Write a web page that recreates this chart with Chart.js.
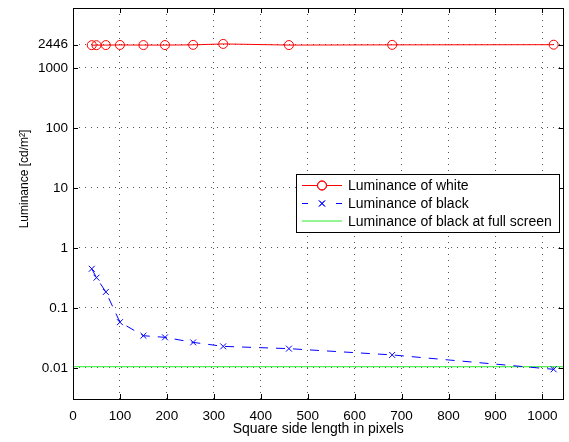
<!DOCTYPE html>
<html lang="en">
<head>
    <meta charset="UTF-8">
    <title>Luminance vs square side length</title>
    <script src="https://cdn.jsdelivr.net/npm/chart.js"></script>
    <style>
        body {
            margin: 0;
            background-color: #fff;
        }
        #wrap {
            width: 569px;
            height: 442px;
        }
    </style>
</head>
<body>
    <div id="wrap">
        <canvas id="lumChart" width="569" height="442"></canvas>
    </div>

    <script>
        // Square side lengths (pixels)
        const sideLengths = [40, 50, 70, 100, 150, 196, 256, 320, 460, 680, 1024];
        // Luminance values (cd/m^2)
        const whiteLum = [2400, 2400, 2410, 2420, 2410, 2410, 2430, 2520, 2410, 2430, 2446];
        const blackLum = [0.45, 0.32, 0.185, 0.058, 0.0345, 0.0324, 0.0267, 0.0229, 0.021, 0.0165, 0.0095];
        const blackFullScreen = 0.0105;

        // Axis settings
        const xRange = [0, 1045];
        const xTicks = [0, 100, 200, 300, 400, 500, 600, 700, 800, 900, 1000];
        const yRange = [0.00304, 10000];
        const yTicks = [0.01, 0.1, 1, 10, 100, 1000, 2446];
        const yTickLabels = ['0.01', '0.1', '1', '10', '100', '1000', '2446'];

        const seriesNames = ['Luminance of white', 'Luminance of black', 'Luminance of black at full screen'];
        const yTitle = 'Luminance [cd/m²]';

        const FONT = '"Liberation Sans", Arial, sans-serif';

        const toPoints = (xs, ys) => xs.map((x, i) => ({ x: x, y: ys[i] }));

        // Frame around the plot area with inward tick marks (MATLAB style), plus y label
        const framePlugin = {
            id: 'frame',
            afterDatasetsDraw(chart) {
                const { ctx, chartArea: a, scales } = chart;
                ctx.save();
                ctx.strokeStyle = '#000';
                ctx.lineWidth = 1;
                ctx.setLineDash([]);
                ctx.beginPath();
                scales.x.ticks.forEach(t => {
                    const px = Math.round(scales.x.getPixelForValue(t.value)) + 0.5;
                    ctx.moveTo(px, a.bottom); ctx.lineTo(px, a.bottom - 5);
                    ctx.moveTo(px, a.top); ctx.lineTo(px, a.top + 5);
                });
                scales.y.ticks.forEach(t => {
                    const py = Math.round(scales.y.getPixelForValue(t.value)) + 0.5;
                    ctx.moveTo(a.left, py); ctx.lineTo(a.left + 5, py);
                    ctx.moveTo(a.right, py); ctx.lineTo(a.right - 5, py);
                });
                ctx.stroke();
                ctx.strokeRect(Math.round(a.left) + 0.5, Math.round(a.top) + 0.5,
                    Math.round(a.right - a.left) - 1, Math.round(a.bottom - a.top));

                // y axis label
                ctx.translate(25, 179);
                ctx.rotate(-Math.PI / 2);
                ctx.fillStyle = '#000';
                ctx.font = '12px ' + FONT;
                ctx.textAlign = 'center';
                ctx.textBaseline = 'middle';
                ctx.fillText(yTitle, 0, 0);
                ctx.restore();
            }
        };

        // Legend box drawn inside the plot area
        const legendPlugin = {
            id: 'boxLegend',
            afterDraw(chart) {
                const ctx = chart.ctx;
                const box = { x: 296, y: 174, w: 263, h: 58 };
                const rows = [185.5, 203.5, 221];
                ctx.save();
                ctx.fillStyle = '#fff';
                ctx.fillRect(box.x, box.y, box.w, box.h);
                ctx.strokeStyle = '#000';
                ctx.lineWidth = 1;
                ctx.strokeRect(box.x + 0.5, box.y + 0.5, box.w, box.h);
                ctx.font = '14px ' + FONT;
                ctx.textBaseline = 'middle';
                chart.data.datasets.forEach((ds, i) => {
                    const y = rows[i];
                    ctx.strokeStyle = ds.borderColor;
                    ctx.lineWidth = 1;
                    ctx.setLineDash(ds.borderDash ? [6, 28] : []);
                    ctx.beginPath();
                    ctx.moveTo(302, y); ctx.lineTo(342, y);
                    ctx.stroke();
                    ctx.setLineDash([]);
                    if (ds.pointRadius > 0) {
                        Chart.helpers.drawPoint(ctx, {
                            pointStyle: ds.pointStyle,
                            radius: ds.pointRadius,
                            borderWidth: 1
                        }, 322, y);
                        ctx.stroke();
                    }
                    ctx.fillStyle = '#000';
                    ctx.fillText(ds.label, 348, y + 1);
                });
                ctx.restore();
            }
        };

        const ctx = document.getElementById('lumChart').getContext('2d');
        const lumChart = new Chart(ctx, {
            type: 'line',
            data: {
                datasets: [{
                    label: seriesNames[0],
                    data: toPoints(sideLengths, whiteLum),
                    borderColor: 'rgb(255, 0, 0)',
                    backgroundColor: 'rgba(0, 0, 0, 0)',
                    borderWidth: 1,
                    pointStyle: 'circle',
                    pointRadius: 4.5,
                    pointBorderWidth: 1,
                    fill: false,
                    tension: 0
                }, {
                    label: seriesNames[1],
                    data: toPoints(sideLengths, blackLum),
                    borderColor: 'rgb(0, 0, 255)',
                    backgroundColor: 'rgba(0, 0, 0, 0)',
                    borderWidth: 1,
                    borderDash: [9, 8],
                    pointStyle: 'crossRot',
                    pointRadius: 4.2,
                    pointBorderWidth: 1,
                    fill: false,
                    tension: 0
                }, {
                    label: seriesNames[2],
                    data: toPoints(xRange, [blackFullScreen, blackFullScreen]),
                    borderColor: 'rgb(40, 235, 40)',
                    borderWidth: 1,
                    pointRadius: 0,
                    fill: false
                }]
            },
            options: {
                responsive: false,
                animation: false,
                devicePixelRatio: 1,
                layout: {
                    padding: { top: 8, right: 1, left: 0, bottom: 0 }
                },
                plugins: {
                    legend: { display: false },
                    tooltip: { enabled: false }
                },
                scales: {
                    x: {
                        type: 'linear',
                        min: xRange[0],
                        max: xRange[1],
                        afterBuildTicks: scale => {
                            scale.ticks = xTicks.map(v => ({ value: v }));
                        },
                        afterFit: scale => {
                            scale.height = 43;
                            scale.paddingLeft = 0;
                            scale.paddingRight = 0;
                        },
                        grid: {
                            color: '#555',
                            lineWidth: 1,
                            drawTicks: false
                        },
                        border: { display: false, dash: [1, 5] },
                        ticks: {
                            autoSkip: false,
                            maxRotation: 0,
                            padding: 9,
                            color: '#000',
                            font: { family: FONT, size: 13.5 },
                            callback: v => String(v)
                        },
                        title: {
                            display: true,
                            text: 'Square side length in pixels',
                            color: '#000',
                            font: { family: FONT, size: 14 },
                            padding: { top: 0, bottom: 4 }
                        }
                    },
                    y: {
                        type: 'logarithmic',
                        min: yRange[0],
                        max: yRange[1],
                        afterBuildTicks: scale => {
                            scale.ticks = yTicks.map(v => ({ value: v }));
                        },
                        afterFit: scale => {
                            scale.width = 73;
                            scale.paddingTop = 0;
                            scale.paddingBottom = 0;
                        },
                        grid: {
                            color: '#555',
                            lineWidth: 1,
                            drawTicks: false
                        },
                        border: { display: false, dash: [1, 5] },
                        ticks: {
                            autoSkip: false,
                            padding: 5,
                            color: '#000',
                            font: { family: FONT, size: 13.5 },
                            callback: (v, i) => yTickLabels[i]
                        },
                        title: { display: false }
                    }
                }
            },
            plugins: [framePlugin, legendPlugin]
        });
    </script>
</body>
</html>
